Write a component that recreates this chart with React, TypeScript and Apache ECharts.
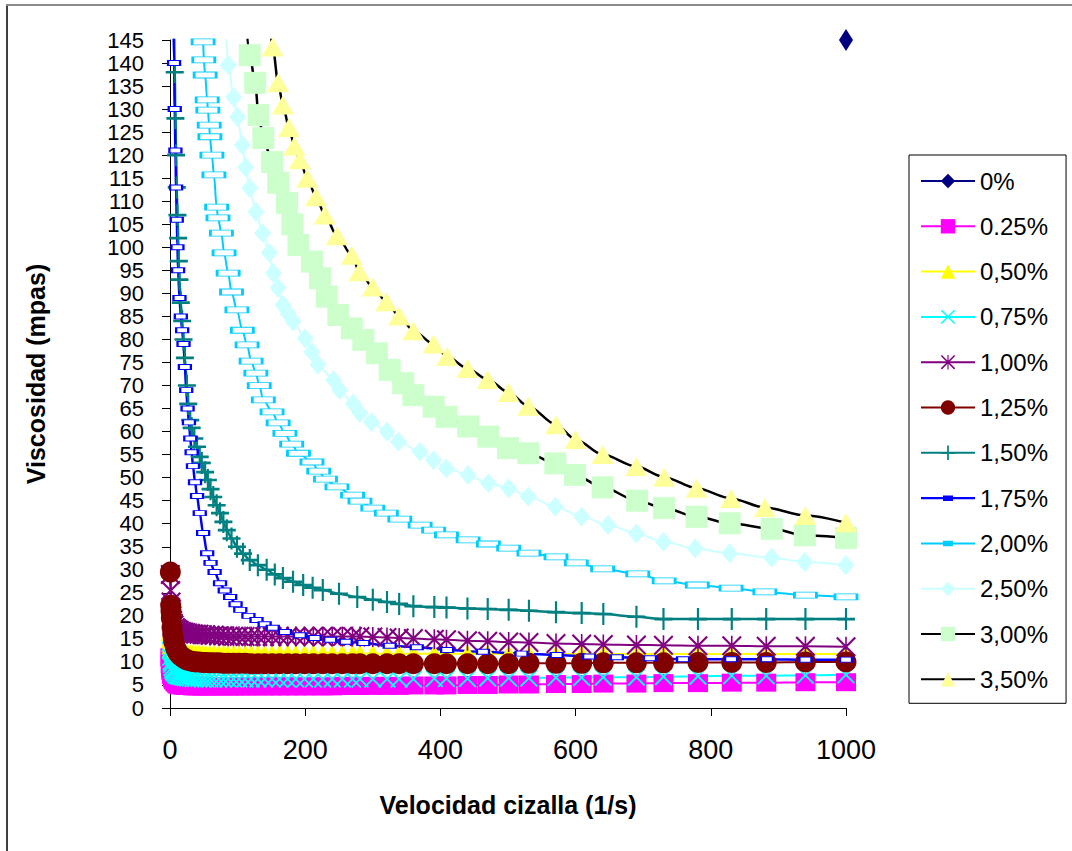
import React, { useEffect, useRef } from 'react';
import * as echarts from 'echarts';

// ---------- data ----------
const seriesNames = ['0%', '0.25%', '0,50%', '0,75%', '1,00%', '1,25%', '1,50%', '1,75%', '2,00%', '2,50%', '3,00%', '3,50%'];

const yTicksMax = 145;
const xTicksMax = 1000;

// 0%: a single point visible
const shear000 = [1000];
const visc000 = [145];

// common shear grid for the low-viscosity samples
const shearLow = [0.5, 1, 1.5, 2, 3, 4, 5, 6, 8, 10,
  12, 14, 17, 20, 23, 26, 30, 34, 38, 43,
  48, 53, 59, 65, 72, 79, 86, 94, 102, 111,
  120, 130, 140, 151, 162, 174, 186, 199, 212, 226,
  240, 255, 270, 281, 300, 321, 339, 360, 391, 409,
  440, 470, 501, 531, 571, 609, 641, 690, 730, 781,
  831, 882, 940, 1000];

const visc025 = [11, 9.5, 8.6, 8, 7.2, 6.7, 6.3, 6, 5.6, 5.3,
  5.1, 5, 4.9, 4.9, 4.8, 4.8, 4.8, 4.7, 4.7, 4.7,
  4.7, 4.7, 4.7, 4.7, 4.7, 4.7, 4.7, 4.7, 4.7, 4.7,
  4.7, 4.7, 4.7, 4.7, 4.7, 4.7, 4.7, 4.7, 4.7, 4.7,
  4.7, 4.8, 4.8, 4.8, 4.8, 4.8, 4.8, 4.9, 4.9, 4.9,
  5, 5, 5.1, 5.1, 5.2, 5.2, 5.3, 5.3, 5.4, 5.4,
  5.5, 5.5, 5.6, 5.6];

const visc050 = [16.5, 15, 14.2, 13.6, 13, 12.7, 12.5, 12.4, 12.3, 12.2,
  12.1, 12.1, 12, 12, 12, 11.9, 11.9, 11.9, 11.9, 11.9,
  11.8, 11.8, 11.8, 11.8, 11.8, 11.8, 11.8, 11.8, 11.8, 11.8,
  11.8, 11.8, 11.8, 11.8, 11.8, 11.8, 11.8, 11.8, 11.8, 11.8,
  11.8, 11.8, 11.8, 11.8, 11.8, 11.8, 11.8, 11.8, 11.8, 11.8,
  11.8, 11.8, 11.8, 11.7, 11.7, 11.7, 11.7, 11.7, 11.7, 11.7,
  11.7, 11.7, 11.7, 11.7];

const visc075 = [12.5, 11, 10, 9.5, 8.8, 8.3, 8, 7.7, 7.4, 7.1,
  7, 6.9, 6.8, 6.7, 6.6, 6.5, 6.5, 6.4, 6.4, 6.4,
  6.3, 6.3, 6.3, 6.3, 6.3, 6.3, 6.3, 6.3, 6.3, 6.3,
  6.3, 6.3, 6.3, 6.3, 6.3, 6.3, 6.3, 6.3, 6.3, 6.3,
  6.3, 6.3, 6.3, 6.3, 6.3, 6.3, 6.3, 6.3, 6.4, 6.4,
  6.4, 6.5, 6.5, 6.5, 6.6, 6.6, 6.7, 6.7, 6.8, 6.9,
  7, 7, 7.1, 7.2];

const visc100 = [29, 25.5, 23, 21.5, 20, 19, 18.4, 18, 17.5, 17.2,
  17, 16.8, 16.6, 16.5, 16.4, 16.3, 16.2, 16.1, 16, 16,
  15.9, 15.9, 15.8, 15.8, 15.7, 15.7, 15.6, 15.6, 15.6, 15.5,
  15.5, 15.5, 15.5, 15.5, 15.5, 15.5, 15.5, 15.5, 15.5, 15.5,
  15.5, 15.5, 15.5, 15.5, 15.4, 15.3, 15.2, 15.1, 14.9, 14.8,
  14.6, 14.5, 14.3, 14.2, 14, 13.9, 13.8, 13.7, 13.6, 13.5,
  13.5, 13.4, 13.4, 13.3];

const visc125 = [29.5, 22.3, 21, 19.5, 17.5, 16, 15, 14.2, 13.2, 12.5,
  12, 11.6, 11.2, 10.9, 10.6, 10.4, 10.2, 10.1, 10, 10,
  9.9, 9.9, 9.8, 9.8, 9.8, 9.7, 9.7, 9.7, 9.7, 9.7,
  9.6, 9.6, 9.6, 9.6, 9.6, 9.6, 9.6, 9.6, 9.6, 9.6,
  9.6, 9.6, 9.6, 9.6, 9.6, 9.6, 9.6, 9.6, 9.6, 9.6,
  9.6, 9.6, 9.6, 9.7, 9.7, 9.7, 9.8, 9.8, 9.8, 9.9,
  9.9, 9.9, 10, 10];

const shear150 = [6, 7, 8, 9, 10, 11, 12, 13, 14, 16,
  18, 20, 22, 25, 27, 30, 32, 36, 40, 44,
  47, 52, 56, 60, 64, 69, 74, 79, 84, 91,
  99, 108, 118, 130, 143, 155, 167, 182, 197, 211,
  226, 250, 277, 300, 321, 339, 360, 391, 409, 440,
  470, 501, 531, 571, 609, 641, 690, 730, 781, 831,
  882, 940, 1000];
const visc150 = [150, 138, 128, 120, 113, 107, 102, 97, 93, 88,
  84, 80, 76, 70, 66, 62.5, 60.8, 58.5, 56.7, 54.5,
  53.2, 51.2, 49.5, 47.5, 45.8, 44, 42.3, 40.4, 38.6, 36.8,
  35, 33.5, 32.1, 31, 30, 29, 28.2, 27.4, 26.7, 26.1,
  25.6, 24.8, 24.1, 23.5, 23, 22.6, 22.1, 21.9, 21.8, 21.6,
  21.5, 21.3, 21.1, 20.8, 20.6, 20.4, 19.8, 19.3, 19.3, 19.3,
  19.3, 19.3, 19.3];

const shear175 = [5, 6, 7, 8, 9, 10, 11, 12, 14, 16,
  18, 20, 22, 24, 26, 28, 30, 32, 34, 37,
  40, 44, 49, 55, 60, 66, 74, 81, 89, 97,
  104, 116, 128, 140, 152, 170, 192, 214, 237, 260,
  286, 325, 365, 410, 463, 520, 572, 620, 661, 710,
  759, 830, 883, 940, 1000];
const visc175 = [150, 140, 130, 121, 113, 106, 100, 95, 89, 85,
  82, 79, 74, 69, 65, 62, 58.5, 55.5, 52.5, 49,
  46, 42.3, 38, 33.6, 31.5, 29.5, 27.1, 25.5, 24.1, 22.5,
  21.3, 20, 19.1, 18.2, 17.4, 16.5, 15.8, 15.2, 14.8, 14.4,
  14.1, 13.5, 13.2, 12.6, 12.2, 11.8, 11.5, 11.2, 11, 10.8,
  10.6, 10.6, 10.6, 10.5, 10.5];

const shear200 = [47, 49, 50, 52, 55, 56, 58, 59, 62, 65,
  69, 71, 76, 80, 86, 91, 99, 107, 114, 120,
  127, 132, 138, 151, 160, 170, 180, 190, 210, 220,
  230, 247, 270, 281, 300, 320, 340, 370, 390, 409,
  441, 471, 501, 531, 571, 601, 640, 692, 731, 780,
  830, 880, 940, 1000];
const visc200 = [150, 144.6, 140.7, 137.4, 132, 129.8, 126.5, 124, 120, 115.7,
  108.7, 106.4, 103.1, 98.8, 94.4, 90.3, 86.4, 82, 78.8, 75.3,
  72.7, 70, 66.9, 64.3, 61.9, 59.6, 57.3, 55.3, 53.4, 51.4,
  49.7, 48, 46.2, 44.9, 43.4, 42.3, 41, 39.7, 38.6, 37.6,
  36.5, 35.6, 34.7, 33.6, 32.8, 31.5, 30.2, 29.1, 27.6, 26.7,
  26, 25.2, 24.5, 24.1];

const shear250 = [82, 86, 94, 100, 107, 112, 118, 127, 137, 147,
  153, 160, 167, 175, 182, 200, 210, 219, 242, 251,
  271, 281, 298, 321, 338, 370, 390, 409, 441, 471,
  501, 530, 570, 609, 648, 690, 730, 777, 828, 890,
  939, 1000];
const visc250 = [150, 139.6, 132.6, 128.3, 122.2, 117.4, 112.9, 107.7, 103.1, 98.8,
  94.4, 91.2, 87.5, 85.5, 83.9, 80.2, 77.3, 74.5, 71.2, 69,
  66.1, 64, 62.1, 60, 57.8, 55.6, 53.8, 52, 50.6, 48.8,
  47.7, 45.9, 43.7, 41.5, 39.7, 37.9, 36.1, 34.6, 33.6, 32.6,
  31.7, 31];

const shear300 = [112, 118, 126, 131, 138, 151, 160, 173, 181, 190,
  210, 222, 232, 249, 269, 286, 306, 325, 345, 360,
  390, 409, 441, 471, 500, 530, 570, 599, 640, 691,
  731, 779, 828, 890, 939, 1000];
const visc300 = [150, 141.7, 135.7, 128.7, 123.7, 118.5, 114, 109.6, 105, 100.5,
  96.9, 93.3, 89.3, 85.3, 82.4, 79.9, 77, 73.4, 70.5, 67.9,
  65.4, 63.2, 61.1, 58.9, 56.4, 55.3, 53.1, 50.6, 47.9, 45,
  43.4, 41.5, 40.1, 38.9, 37.5, 36.9];

const shear350 = [146, 152, 160, 167, 176, 184, 192, 203, 216, 229,
  247, 269, 280, 300, 320, 339, 360, 390, 410, 440,
  470, 501, 530, 571, 600, 640, 690, 731, 779, 830,
  880, 940, 1000];
const visc350 = [150, 143.5, 135.7, 130.9, 126, 122, 119, 115, 111, 107,
  102.5, 98.3, 94.7, 91.4, 88.2, 85.1, 81.9, 79, 76.3, 73.7,
  71.3, 68.5, 65.5, 61.5, 58.3, 55, 52.4, 50.1, 47.7, 45.5,
  43.5, 41.8, 40.2];

// ---------- styling ----------
const crossPath = 'path://M0,1.5L1.5,0L20,18.5L18.5,20Z M18.5,0L20,1.5L1.5,20L0,18.5Z';
const starPath = 'path://M0,1.5L1.5,0L20,18.5L18.5,20Z M18.5,0L20,1.5L1.5,20L0,18.5Z M9.2,0L10.8,0L10.8,20L9.2,20Z';
const plusPath = 'path://M0,8.8L20,8.8L20,11.2L0,11.2Z M8.8,0L11.2,0L11.2,20L8.8,20Z';
const legendDash = 'path://M0,0L0.1,0L0,0.1Z M54,18L53.9,18L54,17.9Z M0,8L54,8L54,10.2L0,10.2Z M22,6.3L32,6.3L32,11.9L22,11.9Z';

const FONT = 'Liberation Sans, Arial, sans-serif';

function pairs(xs: number[], ys: number[]) {
  return xs.map((x, i) => [x, ys[i]]);
}

function mk(name: string, xs: number[], ys: number[], symbol: string, size: any,
  fill: string, line: string, opts: any = {}) {
  return {
    type: 'line',
    name,
    data: pairs(xs, ys),
    symbol,
    symbolSize: size,
    showAllSymbol: true,
    smooth: 0.3,
    smoothMonotone: 'x',
    lineStyle: { color: line, width: opts.lw ?? 2 },
    itemStyle: { color: fill, borderColor: opts.border ?? fill, borderWidth: opts.bw ?? 0 },
    clip: opts.clip ?? true,
    emphasis: { disabled: true },
  };
}

export default function App() {
  const ref = useRef<HTMLDivElement>(null);

  useEffect(() => {
    if (!ref.current) return;
    const chart = echarts.init(ref.current, null, { renderer: 'svg' });

    const series = [
      mk(seriesNames[0], shear000, visc000, 'diamond', [14, 22], '#000080', '#000080', { clip: false }),
      mk(seriesNames[1], shearLow, visc025, 'rect', [20, 18], '#FF00FF', '#FF00FF'),
      mk(seriesNames[2], shearLow, visc050, 'triangle', [20, 18], '#FFFF00', '#FFFF00'),
      mk(seriesNames[3], shearLow, visc075, crossPath, [18, 18], '#00FFFF', '#00FFFF'),
      mk(seriesNames[4], shearLow, visc100, starPath, [20, 20], '#800080', '#800080'),
      mk(seriesNames[5], shearLow, visc125, 'circle', 21, '#800000', '#800000'),
      mk(seriesNames[6], shear150, visc150, plusPath, [18, 22], '#008080', '#008080', { lw: 2.5 }),
      mk(seriesNames[7], shear175, visc175, 'rect', [12, 5], '#FFFFFF', '#0000FF', { border: '#0000FF', bw: 1.5, lw: 2.5 }),
      mk(seriesNames[8], shear200, visc200, 'rect', [22, 6], '#FFFFFF', '#00CCFF', { border: '#00CCFF', bw: 1.5 }),
      mk(seriesNames[9], shear250, visc250, 'diamond', [17, 20], '#CCFFFF', '#CCFFFF'),
      mk(seriesNames[10], shear300, visc300, 'rect', [22, 22], '#CCFFCC', '#000000', { lw: 2.5 }),
      mk(seriesNames[11], shear350, visc350, 'triangle', [22, 19], '#FFFF99', '#000000', { lw: 2.5 }),
    ];

    const legendData = seriesNames.map((n) => {
      if (n === '1,75%') return { name: n, icon: legendDash, itemStyle: { color: '#0000FF', borderWidth: 0 } };
      if (n === '2,00%') return { name: n, icon: legendDash, itemStyle: { color: '#00CCFF', borderWidth: 0 } };
      return { name: n };
    });

    chart.setOption({
      animation: false,
      backgroundColor: '#ffffff',
      grid: { left: 170, top: 40, width: 676, height: 668, containLabel: false },
      xAxis: {
        type: 'value',
        min: 0,
        max: xTicksMax,
        interval: 200,
        name: 'Velocidad cizalla (1/s)',
        nameLocation: 'middle',
        nameGap: 84,
        nameTextStyle: { fontFamily: FONT, fontSize: 25, fontWeight: 'bold', color: '#000' },
        axisLine: { show: true, onZero: false, lineStyle: { color: '#000', width: 1 } },
        axisTick: { show: true, inside: false, length: 8, lineStyle: { color: '#000' } },
        axisLabel: {
          fontFamily: FONT, fontSize: 27, color: '#000', margin: 28,
          showMinLabel: true, showMaxLabel: true,
          formatter: (v: number) => String(v),
        },
        splitLine: { show: false },
      },
      yAxis: {
        type: 'value',
        min: 0,
        max: yTicksMax,
        interval: 5,
        name: 'Viscosidad (mpas)',
        nameLocation: 'middle',
        nameGap: 122,
        nameRotate: 90,
        nameTextStyle: { fontFamily: FONT, fontSize: 25, fontWeight: 'bold', color: '#000' },
        axisLine: { show: true, lineStyle: { color: '#000', width: 1 } },
        axisTick: { show: true, inside: false, length: 8, lineStyle: { color: '#000' } },
        axisLabel: {
          fontFamily: FONT, fontSize: 22, lineHeight: 20, color: '#000', margin: 26,
          showMinLabel: true, showMaxLabel: true, hideOverlap: false,
          formatter: (v: number) => String(v),
        },
        splitLine: { show: false },
      },
      legend: {
        orient: 'vertical',
        left: 909,
        top: 155,
        padding: [14, 18, 12, 11],
        itemWidth: 54,
        itemHeight: 18,
        itemGap: 21.3,
        borderColor: '#000',
        borderWidth: 1,
        backgroundColor: '#ffffff',
        selectedMode: false,
        textStyle: { fontFamily: FONT, fontSize: 24, color: '#000', lineHeight: 24 },
        data: legendData,
      },
      graphic: [
        { type: 'line', shape: { x1: 7, y1: 5, x2: 7, y2: 851 }, style: { stroke: '#000', lineWidth: 1.5 }, silent: true },
        { type: 'line', shape: { x1: 6, y1: 5, x2: 1072, y2: 5 }, style: { stroke: '#8a8a8a', lineWidth: 2 }, silent: true },
      ],
      series,
    });

    return () => chart.dispose();
  }, []);

  return (
    <div
      ref={ref}
      style={{ position: 'absolute', left: 0, top: 0, width: 1072, height: 851, background: '#fff' }}
    />
  );
}
